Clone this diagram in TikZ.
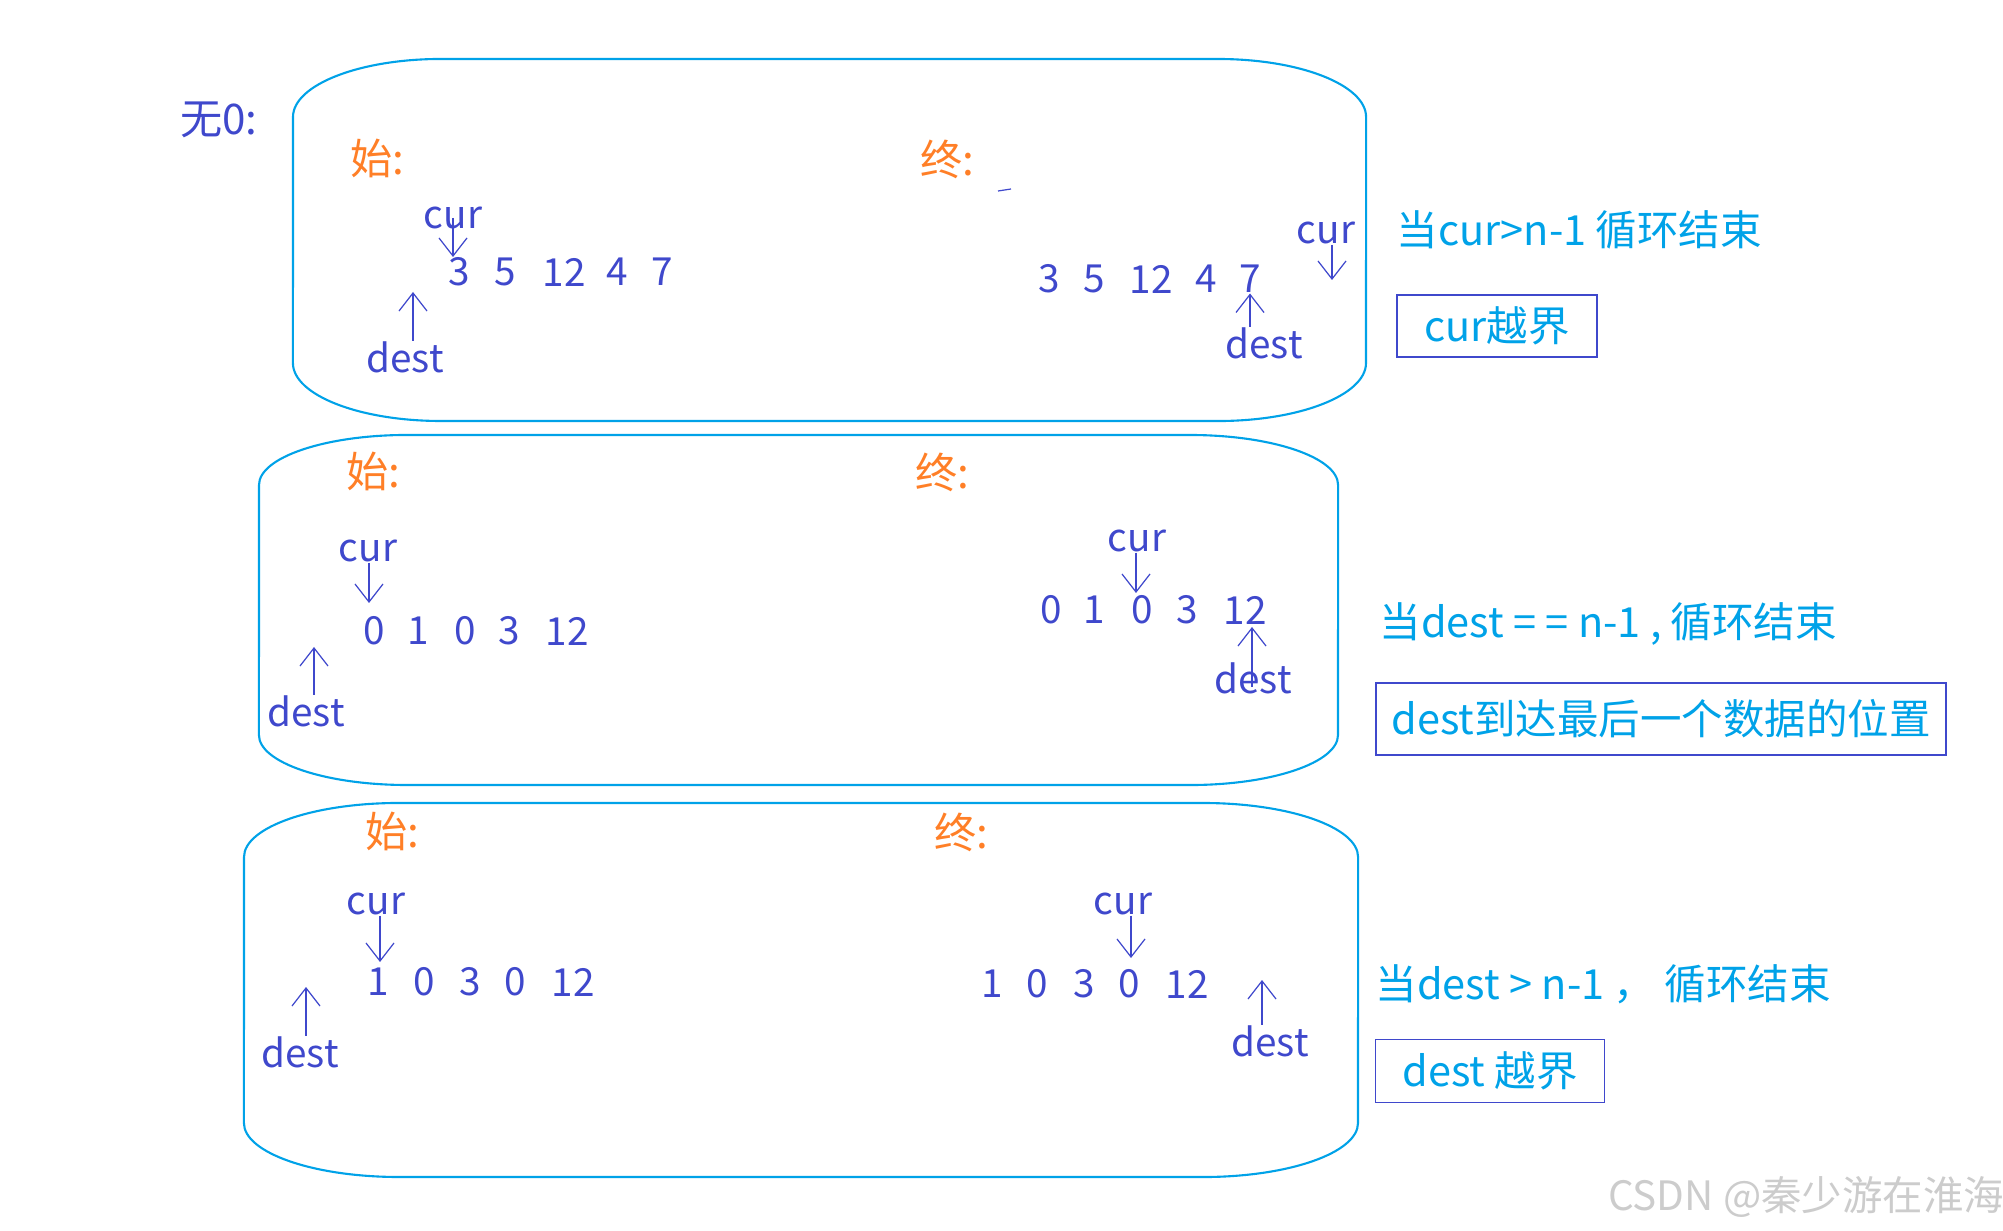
\documentclass[tikz,border=0pt]{standalone}
\usepackage{fontspec}
\setmainfont{Noto Sans CJK SC}
\usepackage{xcolor}
\usetikzlibrary{arrows.meta, positioning}
\definecolor{frame}{RGB}{0,162,232}
\definecolor{ink}{RGB}{63,72,204}
\definecolor{mark}{RGB}{255,127,39}

\begin{document}
\begin{tikzpicture}[x=0.01cm, y=-0.01cm,
    lbl/.style={inner sep=0pt, text=ink, font=\fontsize{11}{13}\selectfont},
    tag/.style={inner sep=0pt, text=mark, font=\fontsize{12}{14}\selectfont},
    note/.style={inner sep=0pt, anchor=west, text=frame, font=\fontsize{11.8}{14}\selectfont},
    bound/.style={rectangle, draw=ink, line width=0.5pt, inner sep=0pt,
                  text=frame, font=\fontsize{11.8}{14}\selectfont},
    loopbox/.style={draw=frame, line width=0.6pt},
    ptr/.style={-{Straight Barb[length=1.8mm, width=2.8mm]}, draw=ink, line width=0.35pt}
  ]
  \useasboundingbox (0,0) rectangle (2003,1231);

  % the three cases
  \draw[loopbox] (293,117) arc (180:90:1.48cm and 0.58cm) -- (1218,59)
    arc (90:0:1.48cm and 0.58cm) -- (1366,363)
    arc (0:-90:1.48cm and 0.58cm) -- (441,421)
    arc (270:180:1.48cm and 0.58cm) -- cycle;
  \draw[loopbox] (259,485) arc (180:90:1.48cm and 0.5cm) -- (1190,435)
    arc (90:0:1.48cm and 0.5cm) -- (1338,735)
    arc (0:-90:1.48cm and 0.5cm) -- (407,785)
    arc (270:180:1.48cm and 0.5cm) -- cycle;
  \draw[loopbox] (244,857) arc (180:90:1.55cm and 0.54cm) -- (1203,803)
    arc (90:0:1.55cm and 0.54cm) -- (1358,1123)
    arc (0:-90:1.55cm and 0.54cm) -- (399,1177)
    arc (270:180:1.55cm and 0.54cm) -- cycle;

  \node[lbl, font=\fontsize{12}{14}\selectfont] (title) at (219,120) {无0:};

  \node[tag] (g1s) at (377,158) {始:};
  \node[tag] (g1f) at (947,159) {终:};
  \node[tag] (g2s) at (373,471) {始:};
  \node[tag] (g2f) at (942,472) {终:};
  \node[tag] (g3s) at (392,831) {始:};
  \node[tag] (g3f) at (961,832) {终:};
  \draw[ink, line width=0.35pt] (998,191) -- (1011,189);

  % arrays
  \foreach \v/\x [count=\i] in {3/459,5/505,12/564,4/617,7/662}
    \node[lbl] (a1-\i) at (\x,272) {\v};
  \foreach \v/\x [count=\i] in {3/1049,5/1094,12/1151,4/1206,7/1250}
    \node[lbl] (b1-\i) at (\x,279) {\v};
  \foreach \v/\x [count=\i] in {0/374,1/418,0/465,3/509,12/567}
    \node[lbl] (a2-\i) at (\x,631) {\v};
  \foreach \v/\x [count=\i] in {0/1051,1/1094,0/1142,3/1187,12/1245}
    \node[lbl] (b2-\i) at (\x,610) {\v};
  \foreach \v/\x [count=\i] in {1/378,0/424,3/470,0/515,12/573}
    \node[lbl] (a3-\i) at (\x,982) {\v};
  \foreach \v/\x [count=\i] in {1/992,0/1037,3/1084,0/1129,12/1187}
    \node[lbl] (b3-\i) at (\x,984) {\v};

  % pointers
  \node[lbl] (cS1) at (453,218) {cur};
  \node[lbl] (dS1) at (405,357) {dest};
  \node[lbl] (cF1) at (1326,233) {cur};
  \node[lbl] (dF1) at (1264,343) {dest};
  \node[lbl] (cS2) at (368,551) {cur};
  \node[lbl] (dS2) at (306,711) {dest};
  \node[lbl] (cF2) at (1137,541) {cur};
  \node[lbl] (dF2) at (1253,678) {dest};
  \node[lbl] (cS3) at (376,904) {cur};
  \node[lbl] (dS3) at (300,1052) {dest};
  \node[lbl] (cF3) at (1123,904) {cur};
  \node[lbl] (dF3) at (1270,1041) {dest};

  \coordinate (td1s) at (413,292);
  \coordinate (tc1f) at (1332,280);
  \coordinate (tc2s) at (369,603);
  \coordinate (td2s) at (314,647);
  \coordinate (tc2f) at (1136,593);
  \coordinate (td2f) at (1252,627);
  \coordinate (tc3s) at (380,962);
  \coordinate (td3s) at (306,987);
  \coordinate (tc3f) at (1131,958);
  \coordinate (td3f) at (1262,980);

  \draw[ptr] (cS1.center) -- (cS1.center |- a1-1.north);
  \draw[ptr] (dS1.north -| td1s) -- (td1s);
  \draw[ptr] (cF1.south -| tc1f) -- (tc1f);
  \draw[ptr] (dF1.north -| b1-5.south) -- (b1-5.south);
  \draw[ptr] (cS2.south -| tc2s) -- (tc2s);
  \draw[ptr] (dS2.north -| td2s) -- (td2s);
  \draw[ptr] (cF2.south -| tc2f) -- (tc2f);
  \draw[ptr] ([yshift=-0.09cm]dF2.center -| td2f) -- (td2f);
  \draw[ptr] (cS3.south -| tc3s) -- (tc3s);
  \draw[ptr] (dS3.north -| td3s) -- (td3s);
  \draw[ptr] (cF3.south -| tc3f) -- (tc3f);
  \draw[ptr] (dF3.north -| td3f) -- (td3f);

  % conditions
  \node[note] (cond1) at (1396,230) {当cur>n-1 循环结束};
  \node[note] (cond2) at (1379,624) {当dest = = n-1 , 循环结束};
  \node[note] (cond3) at (1375,984) {当dest > n-1 ， 循环结束};
  \node[bound, minimum width=2cm, minimum height=0.62cm] (bound1) at (1497,326) {cur越界};
  \node[bound, minimum width=5.7cm, minimum height=0.72cm] (bound2) at (1661,719) {dest到达最后一个数据的位置};
  \node[bound, minimum width=2.29cm, minimum height=0.63cm] (bound3) at (1490,1071) {dest 越界};

  \node[inner sep=0pt, text=gray!40, font=\fontsize{11.5}{13}\selectfont] (wm) at (1806,1197) {CSDN @秦少游在淮海};
\end{tikzpicture}
\end{document}
